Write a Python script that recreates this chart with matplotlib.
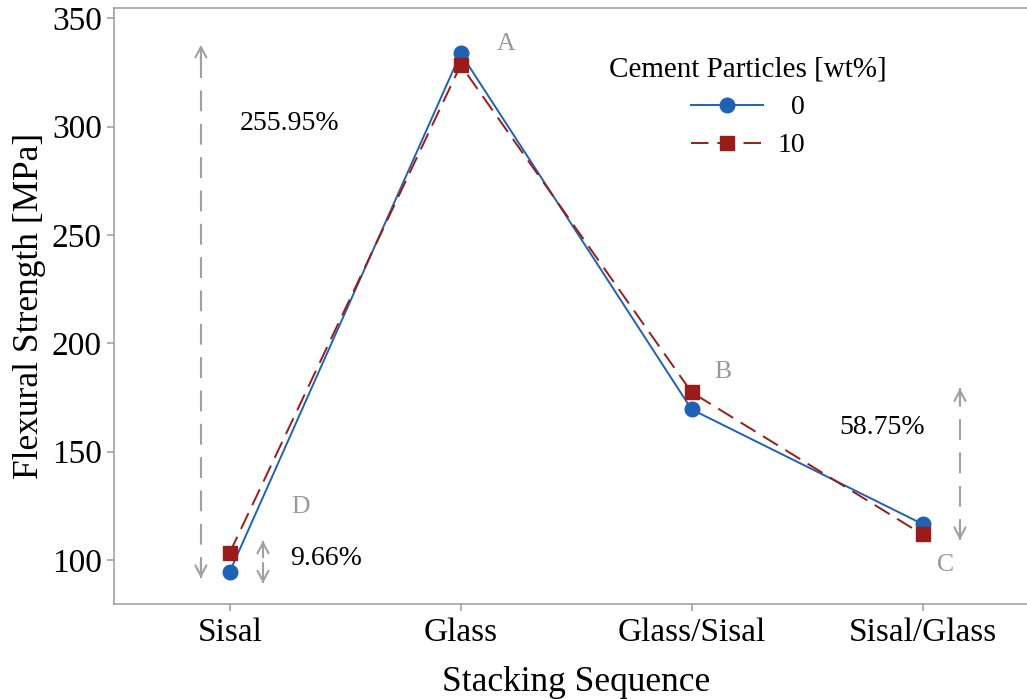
import numpy as np
import matplotlib
matplotlib.use("Agg")
import matplotlib.pyplot as plt

plt.rcParams['font.family'] = ['Liberation Serif', 'DejaVu Serif']

categories = ['Sisal', 'Glass', 'Glass/Sisal', 'Sisal/Glass']
strength_0 = [94.6, 333.8, 169.5, 116.6]
strength_10 = [103.4, 328.4, 177.4, 111.8]
series_labels = ['  0', '10']
y_ticks = [100, 150, 200, 250, 300, 350]

pct_labels = ['255.95%', '9.66%', '58.75%']
pct_x = [1.26, 1.415, 3.824]
pct_y = [298.4, 97.7, 158.1]

letters = ['A', 'B', 'C', 'D']
letter_x = [2.198, 3.137, 4.101, 1.307]
letter_y = [335.3, 183.8, 94.9, 121.5]

arrow_x = [0.875, 1.144, 4.162]
arrow_lo = [91.7, 89.2, 109.2]
arrow_hi = [337.7, 108.9, 179.2]

BLUE = '#1F62B5'
RED = '#9B1B1B'
GRAY = '#A0A0A0'
SPINE = '#9A9A9A'

fig = plt.figure(figsize=(10.27, 6.99), dpi=100)
ax = fig.add_axes([114.3 / 1027, 1 - 604 / 699, (1038 - 114.3) / 1027, (604 - 8.3) / 699])

x = np.arange(1, len(categories) + 1)

ax.plot(x, strength_0, color=BLUE, lw=1.4, marker='o', markersize=10.5, label=series_labels[0], zorder=3)
ax.plot(x, strength_10, color=RED, lw=1.4, ls=(0, (9, 4.5)), marker='s', markersize=10, label=series_labels[1], zorder=4)

# arrows
for ax_x, lo, hi in zip(arrow_x, arrow_lo, arrow_hi):
    ax.plot([ax_x, ax_x], [lo, hi], color=GRAY, lw=1.5, ls=(0, (10, 6)), solid_capstyle='butt', zorder=2)
    for tip, off in ((hi, -12), (lo, 12)):
        ax.annotate('', xy=(ax_x, tip), xytext=(0, off), textcoords='offset points',
                    arrowprops=dict(arrowstyle='->,head_length=0.75,head_width=0.4', color=GRAY,
                                    lw=1.5, shrinkA=0, shrinkB=0, mutation_scale=10), zorder=2)

for t, tx, ty in zip(pct_labels, pct_x, pct_y):
    ax.text(tx, ty, t, fontsize=20, ha='center', va='baseline', color='black')

for t, tx, ty in zip(letters, letter_x, letter_y):
    ax.text(tx, ty, t, fontsize=18.5, ha='center', va='baseline', color='#999999')

ax.set_xlim(0.5, 4.5)
ax.set_ylim(79.7, 354.6)
ax.set_xticks(x)
ax.set_xticklabels(categories)
ax.set_yticks(y_ticks)

for s in ax.spines.values():
    s.set_color(SPINE)
    s.set_linewidth(1.1)

ax.tick_params(axis='both', colors=SPINE, width=1.1, length=5, labelcolor='black', labelsize=24)
ax.tick_params(axis='x', pad=5)
ax.tick_params(axis='y', pad=4)

ax.set_xlabel('Stacking Sequence', fontsize=25.5, labelpad=13)
fig.text(30 / 1027, 1 - 306 / 699, 'Flexural Strength [MPa]', fontsize=25.5, rotation=90,
         ha='center', va='center')

leg = ax.legend(loc='upper center', bbox_to_anchor=(748 / 1027, 1 - 37 / 699),
                bbox_transform=fig.transFigure, frameon=False,
                title='Cement Particles [wt%]', title_fontsize=21, fontsize=20,
                handlelength=2.6, handletextpad=0.5, labelspacing=0.45, borderpad=0.2)

fig.savefig('out.png', dpi=100)
